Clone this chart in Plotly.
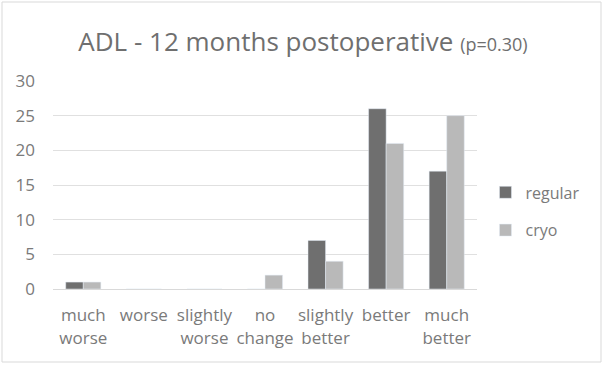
import plotly.graph_objects as go

categories = ["much<br>worse", "worse", "slightly<br>worse", "no<br>change", "slightly<br>better", "better", "much<br>better"]
regular = [1, 0, 0, 0, 7, 26, 17]
cryo = [1, 0, 0, 2, 4, 21, 25]
y_ticks = [0, 5, 10, 15, 20, 25, 30]

font_family = "Open Sans, Liberation Sans, sans-serif"
text_color = "#7a7a7a"

fig = go.Figure()
fig.add_trace(go.Bar(x=categories, y=regular, name="regular", legendgroup="regular", marker_color="#6f6f6f"))
fig.add_trace(go.Bar(x=categories, y=cryo, name="cryo", legendgroup="cryo", marker_color="#b9b9b9"))

W, H = 606, 365
ml, mr, mt, mb = 53, 129, 81, 76
pw, ph = W - ml - mr, H - mt - mb

fig.update_layout(
    width=W, height=H,
    margin=dict(l=ml, r=mr, t=mt, b=mb, autoexpand=False),
    paper_bgcolor="white", plot_bgcolor="white",
    barmode="group", bargap=0.42, bargroupgap=0,
    font=dict(family=font_family, color=text_color, size=16),
    title=dict(
        text="ADL - 12 months postoperative <span style='font-size:18px'>(p=0.30)</span>",
        x=0.5, xanchor="center", y=0.885, yanchor="middle",
        font=dict(size=26, color="#6f6f6f", family=font_family),
    ),
    legend=dict(
        x=1.02, y=0.373, xanchor="left", yanchor="middle",
        font=dict(size=16, color=text_color),
        itemwidth=30, tracegroupgap=14,
    ),
    xaxis=dict(
        tickfont=dict(size=17, color=text_color),
        showline=True, linecolor="#d9d9d9", linewidth=1,
        ticks="", ticklabelstandoff=11, automargin=False,
    ),
    yaxis=dict(
        range=[0, 30], tickvals=y_ticks,
        tickfont=dict(size=17, color=text_color),
        showgrid=True, gridcolor="#e0e0e0", gridwidth=1,
        zeroline=False, showline=False, ticks="",
        ticklabelstandoff=17, automargin=False,
    ),
    shapes=[dict(
        type="rect", xref="paper", yref="paper",
        x0=(2 - ml) / pw, x1=(W - 5 - ml) / pw,
        y0=-(H - 3 - (mt + ph)) / ph, y1=(H - 2 - mb) / ph,
        line=dict(color="#d9d9d9", width=1), layer="below",
    )],
)

fig.write_html("out.html")
